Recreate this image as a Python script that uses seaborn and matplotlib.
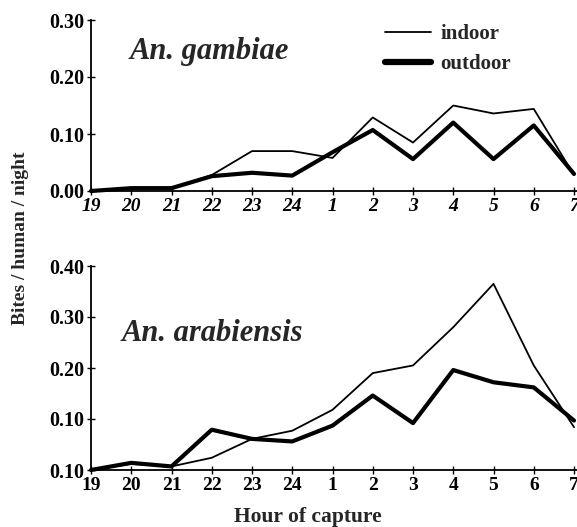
import numpy as np
import pandas as pd
import matplotlib
matplotlib.use("Agg")
import matplotlib.pyplot as plt
import seaborn as sns
from matplotlib.lines import Line2D

hours = ["19", "20", "21", "22", "23", "24", "1", "2", "3", "4", "5", "6", "7"]

gambiae_indoor = [0.0, 0.005, 0.005, 0.028, 0.070, 0.070, 0.058, 0.129, 0.085, 0.150, 0.136, 0.144, 0.028]
gambiae_outdoor = [0.0, 0.005, 0.005, 0.026, 0.032, 0.027, 0.068, 0.107, 0.056, 0.120, 0.056, 0.115, 0.030]

arabiensis_indoor = [0.0, 0.012, 0.007, 0.024, 0.061, 0.077, 0.118, 0.190, 0.205, 0.280, 0.365, 0.205, 0.084]
arabiensis_outdoor = [0.0, 0.014, 0.007, 0.079, 0.061, 0.056, 0.087, 0.146, 0.092, 0.196, 0.172, 0.162, 0.097]

gambiae_yticks = [0.0, 0.1, 0.2, 0.3]
gambiae_ylabels = ["0.00", "0.10", "0.20", "0.30"]
arabiensis_yticks = [0.0, 0.1, 0.2, 0.3, 0.4]
arabiensis_ylabels = ["0.10", "0.10", "0.20", "0.30", "0.40"]


def long_frame(indoor, outdoor):
    pos = np.arange(len(hours))
    return pd.DataFrame({
        "pos": np.concatenate([pos, pos]),
        "bites": indoor + outdoor,
        "site": ["indoor"] * len(hours) + ["outdoor"] * len(hours),
    })


sns.set_style("ticks")
plt.rcParams["font.family"] = ["Liberation Serif", "DejaVu Serif"]
plt.rcParams["font.weight"] = "bold"

fig = plt.figure(figsize=(5.77, 5.27), dpi=100)
ax_top = fig.add_axes([91 / 577, 1 - 191 / 527, 483 / 577, 171 / 527])
ax_bot = fig.add_axes([91 / 577, 1 - 470 / 527, 483 / 577, 204 / 527])

panels = [
    (ax_top, gambiae_indoor, gambiae_outdoor, 0.30, gambiae_yticks, gambiae_ylabels, "italic"),
    (ax_bot, arabiensis_indoor, arabiensis_outdoor, 0.40, arabiensis_yticks, arabiensis_ylabels, "normal"),
]

for ax, indoor, outdoor, ymax, yticks, ylabels, xstyle in panels:
    df = long_frame(indoor, outdoor)
    sns.lineplot(data=df, x="pos", y="bites", hue="site", size="site",
                 palette={"indoor": "black", "outdoor": "black"},
                 sizes={"indoor": 1.3, "outdoor": 3.0},
                 legend=False, ax=ax, clip_on=False)
    ax.set_xlim(0, 12)
    ax.set_ylim(0, ymax)
    ax.set_xticks(np.arange(len(hours)))
    ax.set_xticklabels(hours, fontsize=14, fontweight="bold", fontstyle=xstyle)
    ax.set_yticks(yticks)
    ax.set_yticklabels(ylabels, fontsize=14.5, fontweight="bold")
    ax.tick_params(direction="inout", length=6, width=1.0, pad=2, colors="black")
    ax.set_xlabel("")
    ax.set_ylabel("")
    sns.despine(ax=ax)
    for s in ["left", "bottom"]:
        ax.spines[s].set_linewidth(1.3)
        ax.spines[s].set_color("black")
    ax.spines["bottom"].set_bounds(0, 12.2)

ax_top.text(0.97, 0.232, "An. gambiae", fontsize=22, fontweight="bold",
            fontstyle="italic", va="baseline")
ax_bot.text(0.75, 0.253, "An. arabiensis", fontsize=22, fontweight="bold",
            fontstyle="italic", va="baseline")

handles = [Line2D([], [], color="black", lw=1.3), Line2D([], [], color="black", lw=4.5)]
ax_top.legend(handles, ["indoor", "outdoor"], loc="upper left",
              bbox_to_anchor=(385 / 577, 1 - 24 / 527), bbox_transform=fig.transFigure,
              frameon=False, borderaxespad=0, borderpad=0,
              handlelength=2.2, handletextpad=0.45, labelspacing=0.5,
              prop={"weight": "bold", "size": 15})

fig.text(308 / 577, 1 - 517 / 527, "Hour of capture", ha="center", va="center",
         fontsize=15.5, fontweight="bold")
fig.text(21 / 577, 1 - 238 / 527, "Bites / human / night", ha="center", va="center",
         rotation=90, fontsize=14, fontweight="bold")

fig.savefig("out.png", dpi=100)
